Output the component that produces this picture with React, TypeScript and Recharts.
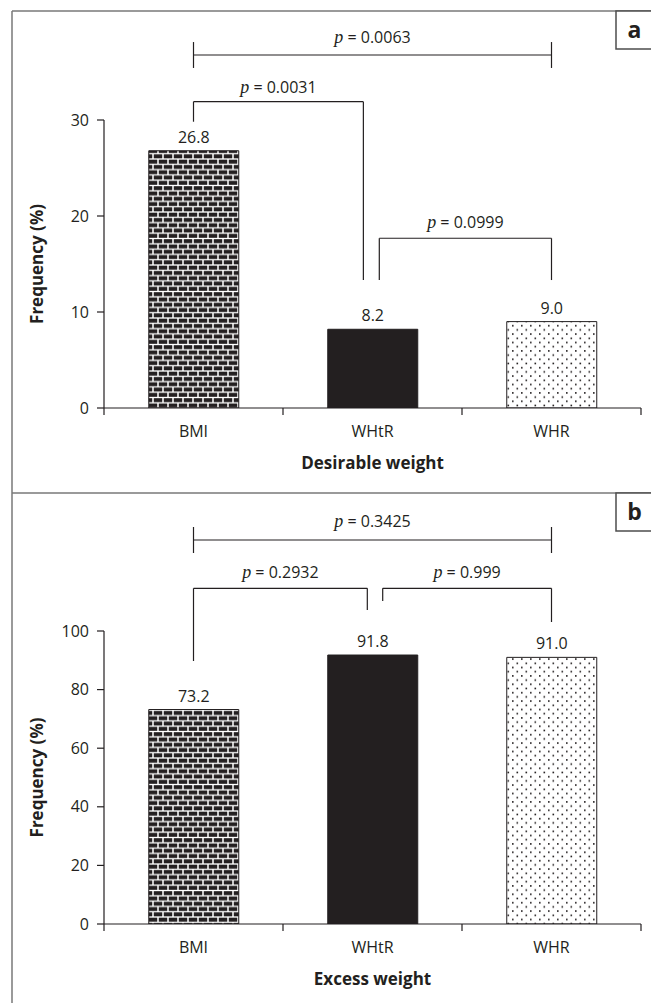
import React from 'react';
import { BarChart, Bar, XAxis, YAxis, Cell, LabelList, ReferenceLine } from 'recharts';

const categories = ['BMI', 'WHtR', 'WHR'];
const desirableWeight = [26.8, 8.2, 9.0];
const excessWeight = [73.2, 91.8, 91.0];
const ticksA = [0, 10, 20, 30];
const ticksB = [0, 20, 40, 60, 80, 100];
const pValuesA = ['0.0063', '0.0031', '0.0999'];
const pValuesB = ['0.3425', '0.2932', '0.999'];
const barFills = ['url(#brick)', '#231f20', 'url(#dots)'];

const INK = '#231f20';
const FONT = "'Open Sans', 'DejaVu Sans', sans-serif";
const SERIF = "'Liberation Serif', 'DejaVu Serif', serif";

type Bracket = {
  x1: number;
  x2: number;
  y: number;
  l: [number, number];
  r: [number, number];
  p: string;
  gap: number;
};

// bracket annotations, in data units (numeric x axis 0..3, category centres at .5)
const bracketsA: Bracket[] = [
  { x1: 0.5, x2: 2.5, y: 36.77, l: [38.12, 35.42], r: [38.12, 35.42], p: pValuesA[0], gap: 12 },
  { x1: 0.5, x2: 1.449, y: 31.91, l: [31.91, 29.82], r: [31.91, 13.33], p: pValuesA[1], gap: 9 },
  { x1: 1.538, x2: 2.5, y: 17.68, l: [17.68, 13.33], r: [17.68, 13.33], p: pValuesA[2], gap: 10 },
];
const bracketsB: Bracket[] = [
  { x1: 0.5, x2: 2.5, y: 131.06, l: [135.49, 126.62], r: [135.49, 126.62], p: pValuesB[0], gap: 12.5 },
  { x1: 0.5, x2: 1.471, y: 114.57, l: [114.57, 89.76], r: [114.57, 107.17], p: pValuesB[1], gap: 10.5 },
  { x1: 1.557, x2: 2.5, y: 114.57, l: [114.57, 110.24], r: [114.57, 103.07], p: pValuesB[2], gap: 10.5 },
];

const pLabel = (text: string, gap: number) => (props: any) => {
  const vb = props && props.viewBox ? props.viewBox : props;
  const cx = vb.x + vb.width / 2;
  const y = vb.y - gap;
  return (
    <text x={cx} y={y} textAnchor="middle" fill={INK} fontSize={16} fontFamily={FONT}>
      <tspan fontFamily={SERIF} fontStyle="italic" fontSize={18}>p</tspan>
      <tspan>{' = ' + text}</tspan>
    </text>
  );
};

const xTitle = (text: string) => (props: any) => {
  const vb = props && props.viewBox ? props.viewBox : props;
  return (
    <text x={vb.x + vb.width / 2} y={vb.y + 61} textAnchor="middle" fill={INK} fontSize={17} fontWeight="bold" fontFamily={FONT}>
      {text}
    </text>
  );
};

const yTitle = (text: string) => (props: any) => {
  const vb = props && props.viewBox ? props.viewBox : props;
  const x = vb.x + 43;
  const y = vb.y + vb.height / 2;
  return (
    <text x={x} y={y} transform={`rotate(-90, ${x}, ${y})`} textAnchor="middle" fill={INK} fontSize={17} fontWeight="bold" fontFamily={FONT}>
      {text}
    </text>
  );
};

type PanelProps = {
  values: number[];
  ticks: number[];
  brackets: Bracket[];
  title: string;
  height: number;
  top: number;
  xAxisHeight: number;
};

function Panel({ values, ticks, brackets, title, height, top, xAxisHeight }: PanelProps) {
  const data = categories.map((name, i) => ({ name, v: values[i], pos: i + 0.5 }));
  const yMax = ticks[ticks.length - 1];
  const plotH = height - top - xAxisHeight;
  const tickDown = -7 * (yMax / plotH);
  const line = { stroke: INK, strokeWidth: 1.2 };
  const refs: React.ReactNode[] = [];
  brackets.forEach((b, i) => {
    refs.push(
      <ReferenceLine key={`h${i}`} xAxisId="num" ifOverflow="visible" segment={[{ x: b.x1, y: b.y }, { x: b.x2, y: b.y }]} {...line} label={pLabel(b.p, b.gap)} />,
      <ReferenceLine key={`l${i}`} xAxisId="num" ifOverflow="visible" segment={[{ x: b.x1, y: b.l[0] }, { x: b.x1, y: b.l[1] }]} {...line} />,
      <ReferenceLine key={`r${i}`} xAxisId="num" ifOverflow="visible" segment={[{ x: b.x2, y: b.r[0] }, { x: b.x2, y: b.r[1] }]} {...line} />,
    );
  });
  [0, 1, 2, 3].forEach((k) => {
    refs.push(
      <ReferenceLine key={`t${k}`} xAxisId="num" ifOverflow="visible" segment={[{ x: k, y: 0 }, { x: k, y: tickDown }]} {...line} />,
    );
  });
  return (
    <BarChart width={651} height={height} data={data} margin={{ top, right: 10, bottom: 0, left: 0 }} barCategoryGap="25%">
      <XAxis
        xAxisId="cat"
        dataKey="name"
        height={xAxisHeight}
        tickLine={false}
        axisLine={false}
        tickSize={0}
        tickMargin={18}
        interval={0}
        tick={{ fill: INK, fontSize: 16, fontFamily: FONT }}
        label={xTitle(title)}
      />
      <XAxis xAxisId="num" dataKey="pos" type="number" domain={[0, 3]} allowDataOverflow allowDecimals hide />
      <YAxis
        width={104}
        domain={[0, yMax]}
        ticks={ticks}
        interval={0}
        allowDataOverflow
        tickSize={7}
        tickMargin={8}
        axisLine={{ stroke: INK, strokeWidth: 1.2 }}
        tickLine={{ stroke: INK, strokeWidth: 1.2 }}
        tick={{ fill: INK, fontSize: 16, fontFamily: FONT }}
        label={yTitle('Frequency (%)')}
      />
      <ReferenceLine xAxisId="num" y={0} {...line} ifOverflow="visible" />
      {refs}
      <Bar xAxisId="cat" dataKey="v" isAnimationActive={false} stroke={INK} strokeWidth={1}>
        {data.map((d, i) => (
          <Cell key={d.name} fill={barFills[i]} />
        ))}
        <LabelList
          dataKey="v"
          position="top"
          offset={8}
          formatter={(v: any) => Number(v).toFixed(1)}
          fill={INK}
          fontSize={16}
          fontFamily={FONT}
        />
      </Bar>
    </BarChart>
  );
}

export default function App() {
  const frame = '#7a7a7a';
  return (
    <div style={{ position: 'absolute', left: 0, top: 0, width: 651, height: 1003, background: '#fff', overflow: 'hidden' }}>
      <svg width={651} height={1003} style={{ position: 'absolute', left: 0, top: 0 }}>
        <defs>
          <pattern id="brick" patternUnits="userSpaceOnUse" width={10} height={10.6} x={148} y={0}>
            <rect width={10} height={10.6} fill="#fff" />
            <rect x={0.75} y={0.65} width={8.5} height={4} fill={INK} />
            <rect x={5.75} y={5.95} width={8.5} height={4} fill={INK} />
            <rect x={-4.25} y={5.95} width={8.5} height={4} fill={INK} />
          </pattern>
          <pattern id="dots" patternUnits="userSpaceOnUse" width={9} height={8.4} x={506} y={0}>
            <rect width={9} height={8.4} fill="#fff" />
            <rect x={1.5} y={1.5} width={1.6} height={1.6} fill={INK} />
            <rect x={6} y={5.7} width={1.6} height={1.6} fill={INK} />
          </pattern>
        </defs>
        <path d="M12 11 H651 M12 11 V1003 M12 493 H651" stroke={frame} strokeWidth={1.5} fill="none" />
        <rect x={616} y={11} width={40} height={38} fill="#fff" stroke="#4d4d4d" strokeWidth={1.5} />
        <rect x={616} y={493} width={40} height={38} fill="#fff" stroke="#4d4d4d" strokeWidth={1.5} />
        <text x={634.5} y={38} textAnchor="middle" fontSize={23} fontWeight="bold" fontFamily={FONT} fill={INK}>a</text>
        <text x={634.5} y={520} textAnchor="middle" fontSize={23} fontWeight="bold" fontFamily={FONT} fill={INK}>b</text>
      </svg>
      <div style={{ position: 'absolute', left: 0, top: 0 }}>
        <Panel values={desirableWeight} ticks={ticksA} brackets={bracketsA} title="Desirable weight" height={493} top={120} xAxisHeight={85} />
      </div>
      <div style={{ position: 'absolute', left: 0, top: 493 }}>
        <Panel values={excessWeight} ticks={ticksB} brackets={bracketsB} title="Excess weight" height={510} top={138} xAxisHeight={79} />
      </div>
    </div>
  );
}
